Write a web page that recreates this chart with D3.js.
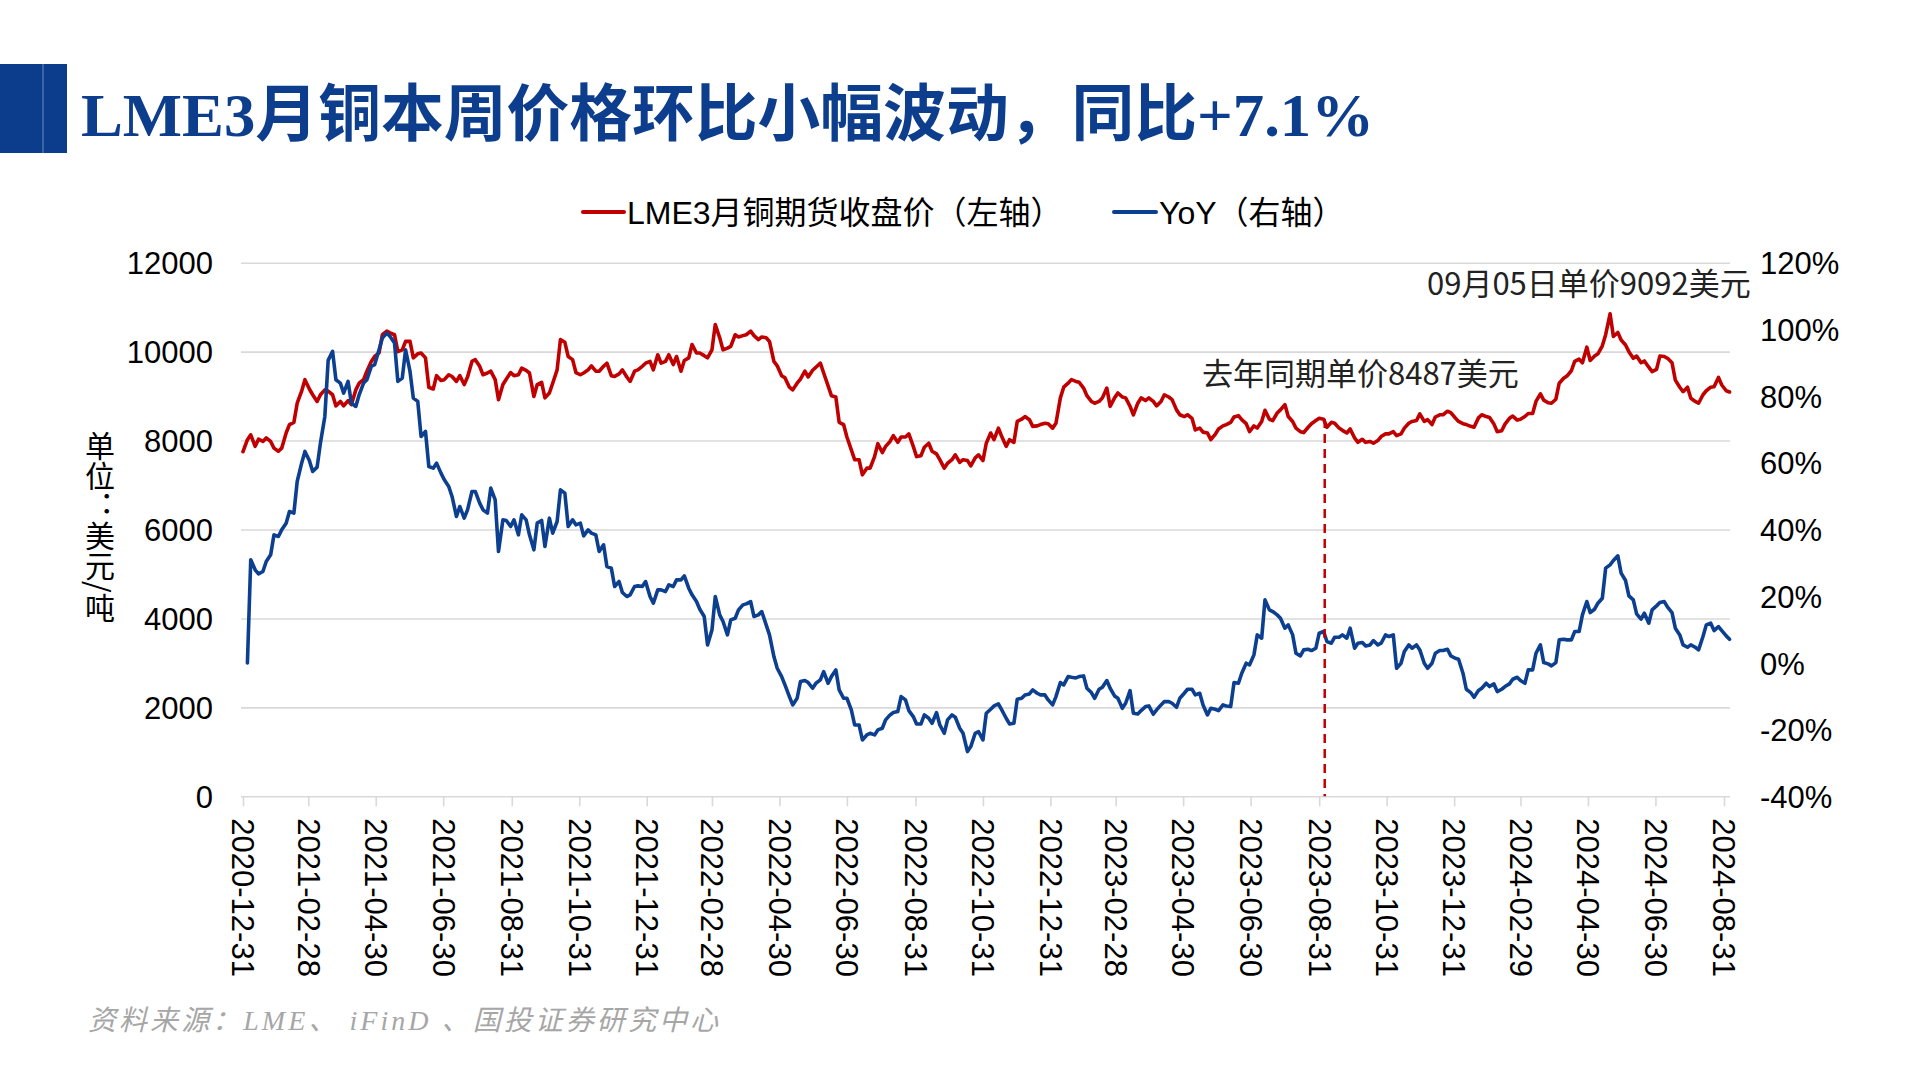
<!DOCTYPE html>
<html><head><meta charset="utf-8">
<script src="https://cdn.jsdelivr.net/npm/d3@7"></script>
<style>
html,body{margin:0;padding:0;background:#fff;}
svg{display:block;}
</style></head>
<body>
<svg id="chart" width="1920" height="1080"></svg>
<script>
// ---------- data ----------
const titleText = "LME3月铜本周价格环比小幅波动，同比+7.1%";
const legendLabels = ["LME3月铜期货收盘价（左轴）", "YoY（右轴）"];
const sourceText = "资料来源：LME、 iFinD 、国投证券研究中心";
const yAxisTitleParts = ["单位", "：", "美元/吨"];
const leftTicks = [0, 2000, 4000, 6000, 8000, 10000, 12000];
const rightTicks = [-40, -20, 0, 20, 40, 60, 80, 100, 120];
const xTickLabels = ["2020-12-31","2021-02-28","2021-04-30","2021-06-30","2021-08-31","2021-10-31","2021-12-31",
  "2022-02-28","2022-04-30","2022-06-30","2022-08-31","2022-10-31","2022-12-31","2023-02-28","2023-04-30",
  "2023-06-30","2023-08-31","2023-10-31","2023-12-31","2024-02-29","2024-04-30","2024-06-30","2024-08-31"];
// first observation, then Monday/Thursday readings from sampleStart to sampleEnd
const firstDate = "2020-12-31";
const sampleStart = "2021-01-04";
const sampleEnd = "2024-09-05";
const priceValues = [7750,
 8020,8130,7870,8030,7980,8060,7980,7830,7760,7830,8170,8360,8410,8840,9110,9370,9160,9030,8880,9030,9140,9110,9030,8780,8880,8780,8900,8810,9140,9290,9370,9560,9780,9890,9970,10380,10460,10420,10380,10000,10040,10230,10230,9860,9950,9970,9860,9200,9160,9460,9350,9370,9480,9440,9330,9460,9260,9430,9780,9820,9670,9480,9520,
 9560,9370,8920,9260,9380,9530,9460,9480,9630,9580,9520,8990,9260,9310,8960,9070,9290,9590,10270,10210,9890,9820,9530,9480,9520,9590,9680,9560,9560,9670,9740,9460,9440,9500,9590,9430,9330,9560,9590,9670,9740,9780,9590,9930,9740,9780,9930,9710,9890,9560,9800,9860,10160,9970,9970,9910,9860,10040,10610,10310,10040,10080,10120,10380,10330,
 10360,10380,10460,10360,10270,10330,10310,10230,9780,9680,9460,9410,9200,9140,9290,9380,9560,9430,9580,9650,9740,9520,9230,9010,8980,8410,8360,8080,7790,7570,7570,7230,7380,7380,7640,7930,7730,7870,7980,8110,7960,8080,8080,8150,7870,7640,7660,7850,7940,7760,7700,7570,7380,7490,7570,7680,7510,7570,7550,7430,7610,7680,7550,7940,
 8170,8020,8280,8090,7870,8020,7960,8430,8480,8540,8470,8320,8330,8360,8390,8380,8280,8390,8960,9200,9290,9370,9330,9310,9180,9010,8880,8840,8880,8960,9180,8770,8960,9070,8980,8960,8770,8580,8840,8960,8900,8960,8880,8780,8880,9030,8980,8920,8690,8580,8540,8580,8500,8240,8280,8190,8170,8020,8140,8260,8330,8360,8410,8530,
 8560,8470,8380,8200,8330,8280,8430,8680,8480,8450,8620,8690,8810,8540,8430,8280,8200,8180,8300,8380,8450,8500,8480,8300,8410,8390,8280,8230,8170,8260,8060,7960,8030,7960,7980,7940,8000,8090,8150,8150,8200,8110,8150,8280,8390,8430,8450,8600,8430,8470,8360,8530,8580,8580,8660,8630,8510,8430,8380,8360,8320,8300,8510,8580,8540,
 8520,8370,8200,8220,8370,8500,8550,8460,8480,8540,8610,8610,8880,9050,8910,8850,8840,8930,9290,9400,9450,9570,9780,9830,9750,10100,9800,9900,9950,10130,10380,10850,10340,10430,10260,10150,10000,9850,9900,9750,9790,9650,9550,9600,9900,9890,9850,9750,9360,9200,9100,9200,8950,8880,8840,9030,9120,9200,9210,9420,9250,9120,9092];
const yoyValues = [null,
 0,30.9,27.9,26.7,27.4,30.4,32.4,38.4,37.9,39.9,41.9,45.4,44.9,54.4,59.9,63.4,60.7,57.4,58.7,65.9,73.9,90.7,93.4,84.9,83.9,80.9,84.4,77.9,76.9,80.4,83.9,84.9,88.9,89.4,93.9,97.4,98.9,97.9,95.9,84.4,85.4,93.9,87.4,79.4,78.4,67.9,69.4,58.9,58.4,59.9,56.9,54.9,52.9,49.9,43.9,46.9,43.4,45.9,51.4,51.4,47.9,45.9,44.9,
 52.4,48.9,33.4,42.9,42.7,40.9,42.9,38.4,44.4,42.9,38.4,33.9,41.9,42.7,34.9,43.4,38.9,42.4,51.9,50.9,40.9,42.9,41.4,41.9,38.1,39.9,38.9,38.4,33.4,35.4,28.9,28.4,22.9,24.4,21.1,19.9,20.4,22.9,23.1,22.9,24.4,19.9,17.9,21.9,21.9,21.4,23.4,22.9,24.9,24.9,26.1,22.4,20.4,18.4,16.1,13.9,5.4,9.9,19.9,14.4,12.4,8.4,12.9,13.4,15.9,
 17.4,17.7,18.4,13.9,14.4,15.4,11.4,8.4,1.9,-1.6,-4.1,-6.6,-10.1,-12.6,-10.6,-5.6,-5.3,-5.9,-7.6,-6.1,-5.1,-2.6,-6.1,-4.1,-2.1,-8.1,-10.6,-10.6,-14.1,-18.6,-18.6,-23.1,-21.6,-21.1,-21.6,-20.1,-19.6,-17.1,-15.6,-14.9,-14.6,-10.1,-11.1,-14.3,-16.1,-18.3,-18.3,-15.6,-16.6,-18.1,-14.9,-18.6,-21.1,-17.1,-15.6,-16.3,-19.6,-21.1,-26.6,-25.1,-21.1,-20.6,-23.1,-15.1,
 -13.9,-12.9,-12.3,-14.1,-16.6,-18.3,-18.1,-10.9,-10.6,-9.6,-9.3,-8.1,-9.1,-9.6,-9.6,-11.1,-12.6,-10.1,-5.9,-6.6,-4.1,-4.3,-4.5,-4.1,-3.9,-7.6,-8.9,-10.6,-7.9,-7.3,-5.3,-7.6,-9.9,-10.6,-13.6,-12.1,-8.3,-15.1,-15.3,-14.3,-13.1,-12.9,-15.4,-14.1,-12.6,-11.6,-11.6,-12.1,-13.3,-10.6,-9.1,-7.9,-7.9,-9.6,-9.1,-12.6,-15.6,-13.6,-13.9,-14.3,-12.6,-12.9,-13.1,-5.9,
 -6.1,-3.1,-0.1,-0.6,2.4,8.4,7.4,18.9,15.9,15.4,14.4,13.4,10.4,11.4,8.4,2.9,2.1,3.9,4.1,3.7,4.4,8.9,9.4,6.4,5.9,7.7,7.7,8.4,7.4,10.4,4.4,5.9,6.1,5.1,5.4,6.7,5.4,5.9,8.4,7.9,8.4,-1.6,-0.1,3.4,5.4,4.4,5.4,3.9,-0.1,-1.6,-0.1,2.9,3.7,3.7,4.1,2.1,1.4,1.1,-3.1,-7.9,-8.9,-10.3,-8.3,-7.6,-6.1,
 -7.1,-6.3,-8.6,-7.9,-7.1,-6.3,-4.9,-4.3,-5.3,-6.1,-2.1,-2.1,2.9,5.4,0.1,-0.3,-0.9,0.1,6.9,7.1,6.9,6.9,9.4,9.4,14.4,18.4,15.1,16.1,17.9,19.4,28.4,29.4,30.7,32.1,26.9,24.7,20.1,18.9,14.7,13.1,14.9,11.9,15.9,17.1,18.1,18.4,16.7,15.1,10.4,8.4,5.4,4.7,5.4,4.7,3.9,7.9,11.4,11.9,9.7,10.9,9.7,8.1,7.1];
const lastYearDate = "2023-09-05";
const lastYearPrice = 8487;
const lastYearLabel = "去年同期单价8487美元";
const latestLabel = "09月05日单价9092美元";

// ---------- build ----------
const parse = d3.timeParse("%Y-%m-%d");
const sampleDates = d3.timeDay.range(parse(sampleStart), d3.timeDay.offset(parse(sampleEnd), 1))
  .filter(d => d.getDay() === 1 || d.getDay() === 4);
const dates = [parse(firstDate), ...sampleDates];
const n = Math.min(dates.length, priceValues.length, yoyValues.length);
const rows = d3.range(n).map(i => ({date: dates[i], price: priceValues[i], yoy: yoyValues[i]}));

const svg = d3.select("#chart");
const RED = "#C00000", BLUE = "#0C3F8F";
const numFont = "'Liberation Sans', Arial, 'Noto Sans CJK SC', sans-serif";
const cjkFont = "'Noto Sans CJK SC', 'Liberation Sans', sans-serif";

const plotL = 241, plotR = 1730, plotTop = 262.7, plotBot = 796.3;
const x = d3.scaleTime().domain([parse("2020-12-31"), parse("2024-08-31")]).range([243, 1724]);
const yL = d3.scaleLinear().domain([0, 12000]).range([plotBot, plotTop]);
const yR = d3.scaleLinear().domain([-40, 120]).range([plotBot, plotTop]);

// title block
svg.append("rect").attr("x", 0).attr("y", 64).attr("width", 67).attr("height", 89).attr("fill", "#0B3D8C");
svg.append("rect").attr("x", 42).attr("y", 64).attr("width", 2).attr("height", 89).attr("fill", "#3A63A8");
svg.append("text").attr("x", 81).attr("y", 136)
  .attr("font-family", "'Liberation Serif', 'Noto Sans CJK SC', serif")
  .attr("font-weight", "bold").attr("font-size", 62).attr("fill", "#0D3E8E")
  .attr("textLength", 1293).attr("lengthAdjust", "spacingAndGlyphs")
  .text(titleText);

// legend
const legendItems = [
  {label: legendLabels[0], color: RED, x0: 583, x1: 624},
  {label: legendLabels[1], color: BLUE, x0: 1114, x1: 1156}
];
legendItems.forEach(it => {
  svg.append("line").attr("x1", it.x0).attr("x2", it.x1).attr("y1", 212).attr("y2", 212)
    .attr("stroke", it.color).attr("stroke-width", 4).attr("stroke-linecap", "round");
  svg.append("text").attr("x", it.x1 + 3).attr("y", 212).attr("dy", "0.36em")
    .attr("font-family", numFont).attr("font-size", 32).attr("fill", "#000").text(it.label);
});

// grid (incl. baseline)
const grid = svg.append("g").attr("transform", `translate(${plotL},0)`)
  .call(d3.axisLeft(yL).tickValues(leftTicks).tickSize(-(plotR - plotL)).tickFormat(""));
grid.select(".domain").remove();
grid.selectAll(".tick line").attr("stroke", "#D9D9D9").attr("stroke-width", 1.6);

// left axis labels
const axL = svg.append("g").attr("transform", "translate(213,0)")
  .call(d3.axisLeft(yL).tickValues(leftTicks).tickSize(0).tickPadding(0).tickFormat(d3.format("d")));
axL.select(".domain").remove();
axL.selectAll("text").attr("font-family", numFont).attr("font-size", 31).attr("fill", "#000").attr("dy", "0.36em");

// right axis labels
const axR = svg.append("g").attr("transform", "translate(1760,0)")
  .call(d3.axisRight(yR).tickValues(rightTicks).tickSize(0).tickPadding(0).tickFormat(d => d + "%"));
axR.select(".domain").remove();
axR.selectAll("text").attr("font-family", numFont).attr("font-size", 31).attr("fill", "#000").attr("dy", "0.36em");

// x axis
const axX = svg.append("g").attr("transform", `translate(0,${plotBot})`)
  .call(d3.axisBottom(x).tickValues(xTickLabels.map(parse)).tickSize(10).tickFormat(d3.timeFormat("%Y-%m-%d")));
axX.select(".domain").remove();
axX.selectAll(".tick line").attr("stroke", "#D9D9D9").attr("stroke-width", 1.6);
axX.selectAll("text").attr("font-family", numFont).attr("font-size", 31).attr("fill", "#000")
  .attr("transform", "rotate(90)").attr("x", 22).attr("y", 0).attr("dy", "0.36em")
  .attr("text-anchor", "start");

// y-axis title: one vertical text; colon kept upright (vertical dots)
const yt = svg.append("text").attr("x", 100).attr("y", 431)
  .attr("font-family", cjkFont).attr("font-size", 30).attr("fill", "#000")
  .style("writing-mode", "vertical-rl");
yt.append("tspan").text(yAxisTitleParts[0]);
yt.append("tspan").style("font-feature-settings", "'vert' 0")
  .attr("font-family", "'Noto Sans CJK TC', 'Noto Sans CJK SC', sans-serif").text(yAxisTitleParts[1]);
yt.append("tspan").text(yAxisTitleParts[2]);

// series
const priceLine = d3.line().defined(d => d.price != null).x(d => x(d.date)).y(d => yL(d.price));
const yoyLine = d3.line().defined(d => d.yoy != null).x(d => x(d.date)).y(d => yR(d.yoy));
svg.append("path").datum(rows).attr("d", priceLine).attr("fill", "none")
  .attr("stroke", RED).attr("stroke-width", 3.6).attr("stroke-linejoin", "round").attr("stroke-linecap", "round");
svg.append("path").datum(rows).attr("d", yoyLine).attr("fill", "none")
  .attr("stroke", BLUE).attr("stroke-width", 3.6).attr("stroke-linejoin", "round").attr("stroke-linecap", "round");

// dashed marker at last-year date
const lyX = x(parse(lastYearDate));
svg.append("line").attr("x1", lyX).attr("x2", lyX).attr("y1", yL(lastYearPrice)).attr("y2", yL(0))
  .attr("stroke", RED).attr("stroke-width", 2.5).attr("stroke-dasharray", "9,6");

// annotations
svg.append("text").attr("x", 1202).attr("y", 374).attr("dy", "0.36em")
  .attr("font-family", cjkFont).attr("font-size", 31).attr("fill", "#222").text(lastYearLabel);
svg.append("text").attr("x", 1427).attr("y", 284).attr("dy", "0.36em")
  .attr("font-family", cjkFont).attr("font-size", 31).attr("fill", "#222").text(latestLabel);

// source
svg.append("text").attr("x", 88).attr("y", 1020).attr("dy", "0.36em")
  .attr("font-family", "'Liberation Serif', 'Noto Sans CJK SC', serif").attr("font-style", "italic")
  .attr("font-size", 28).attr("fill", "#A6A6A6")
  .attr("textLength", 630).attr("lengthAdjust", "spacing")
  .text(sourceText);
</script>
</body></html>
